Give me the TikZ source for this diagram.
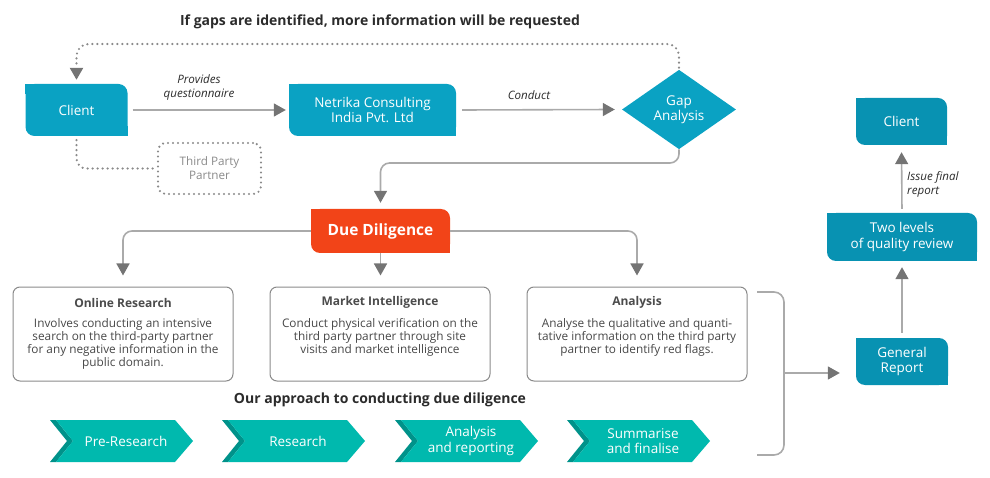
\documentclass[tikz,border=0pt]{standalone}
\usepackage{fontspec}
\setmainfont{Open Sans}
\usetikzlibrary{arrows.meta,shapes.geometric}
\definecolor{tealL}{HTML}{0AA2C3}
\definecolor{tealR}{HTML}{0892B2}
\definecolor{orng}{HTML}{F24418}
\definecolor{chev}{HTML}{00B9AE}
\definecolor{chevD}{HTML}{00928A}
\definecolor{lgray}{HTML}{AAAAAA}
\definecolor{hgray}{HTML}{747474}
\definecolor{dgray}{HTML}{8A8A8A}
\definecolor{txt}{HTML}{2B2B2B}
\definecolor{btxt}{HTML}{474747}
\newcommand{\sqcorners}[2]{%
  \fill[#2] (#1.north west) rectangle ++(10pt,-10pt);
  \fill[#2] (#1.south east) rectangle ++(-10pt,10pt);}
\newcommand{\chevron}[3]{%
  \fill[chevD] (#1,420) -- (#1+6,420) -- (#1+23,441) -- (#1+6,462) -- (#1,462) -- (#1+17,441) -- cycle;
  \fill[chev] (#1+6,420) -- (#1+125,420) -- (#1+143,441) -- (#1+125,462) -- (#1+6,462) -- (#1+23,441) -- cycle;
  \node[chevtxt] (#2) at (#1+76,441) {#3};}
\begin{document}
\begin{tikzpicture}[x=1pt,y=-1pt,
  tab/.style={fill=#1, rounded corners=9pt, text=white, inner sep=0pt, align=center,
    font=\fontsize{13.5}{15.5}\selectfont},
  tip/.style={-{Triangle[width=13pt,length=12pt,color=hgray]}},
  arr/.style={draw=lgray, line width=1.6pt, tip},
  plainline/.style={draw=lgray, line width=1.6pt},
  dotl/.style={draw=dgray, line width=2.4pt, line cap=round, dash pattern=on 0pt off 5pt},
  lab/.style={font=\fontsize{11.6}{14}\selectfont\itshape, text=txt, align=center, inner sep=0pt},
  ttl/.style={font=\fontsize{14}{16}\selectfont\bfseries, text=txt, inner sep=0pt},
  infobox/.style={draw=dgray, line width=1pt, rounded corners=7pt, minimum width=220pt,
    minimum height=94pt, inner sep=0pt},
  infottl/.style={font=\fontsize{12}{13}\selectfont\bfseries, text=txt!85!white, inner sep=0pt},
  infobody/.style={font=\fontsize{11.8}{13}\selectfont, text=btxt, inner sep=0pt, align=center, anchor=north},
  chevtxt/.style={font=\fontsize{13.5}{15.5}\selectfont, text=white, align=center, inner sep=0pt}
]
\useasboundingbox (0,0) rectangle (990,478);

% title
\node[ttl] (title) at (380,22) {If gaps are identified, more information will be requested};

% top row
\node[tab=tealL, minimum width=102pt, minimum height=52pt] (client) at (76.5,110) {Client};
\sqcorners{client}{tealL}
\node[tab=tealL, minimum width=167pt, minimum height=52pt] (netrika) at (372.5,110) {Netrika Consulting\\India Pvt. Ltd};
\sqcorners{netrika}{tealL}
\node[diamond, fill=tealL, text=white, inner sep=0pt, minimum width=114pt, minimum height=69pt,
  align=center, font=\fontsize{13.5}{15.5}\selectfont] (gap) at (679,109.5) {Gap\\Analysis};

\node[lab] (provides) at (199,87) {Provides\\questionnaire};
\node[lab] (conduct) at (529,95) {Conduct};

\draw[arr] ([xshift=5pt]client.east) -- ([xshift=-3pt]netrika.west);
\draw[arr] ([xshift=6pt]netrika.east) -- ([xshift=-7pt]gap.west);

% dotted loop
\coordinate (lp) at (380,44);
\draw[dotl, tip, rounded corners=12pt, shorten <=2pt, shorten >=4pt] (gap.north) -- (gap.north |- lp) -| (client.north);

% third party
\node[dotl, rounded corners=8pt, minimum width=103pt, minimum height=51pt, inner sep=0pt,
  text=dgray, align=center, font=\fontsize{11.7}{14}\selectfont] (third) at (209.5,168.5) {Third Party\\Partner};
\draw[dotl, rounded corners=10pt, shorten <=4pt] (client.south) |- (third.west);

% due diligence
\node[tab=orng, minimum width=139pt, minimum height=44pt, font=\fontsize{15.5}{18}\selectfont\bfseries] (dd) at (380.5,231) {Due Diligence};
\sqcorners{dd}{orng}
\coordinate (t1) at (530,163);
\draw[arr, rounded corners=9pt, shorten >=6pt] (gap.south) -- (gap.south |- t1) -| (dd.north);

% info boxes
\node[infobox] (online) at (123,334) {};
\node[infobox] (market) at (380,334) {};
\node[infobox] (analysis) at (637,334) {};
\node[infottl] (onlineT) at ([yshift=-16pt]online.north) {Online Research};
\node[infottl] (marketT) at ([yshift=-16pt]market.north) {Market Intelligence};
\node[infottl] (analysisT) at ([yshift=-16pt]analysis.north) {Analysis};
\node[infobody] (onlineB) at ([yshift=-32pt]online.north) {Involves conducting an intensive\\search on the third-party partner\\for any negative information in the\\public domain.};
\node[infobody] (marketB) at ([yshift=-32pt]market.north) {Conduct physical verification on the\\third party partner through site\\visits and market intelligence};
\node[infobody] (analysisB) at ([yshift=-32pt]analysis.north) {Analyse the qualitative and quanti-\\tative information on the third party\\partner to identify red flags.};

\draw[arr, rounded corners=9pt, shorten >=11pt] (dd.west) -| (online.north);
\draw[arr, shorten >=11pt] (dd.south) -- (dd.south |- market.north);
\draw[arr, rounded corners=9pt, shorten >=11pt] (dd.east) -| (analysis.north);

% approach
\node[ttl] (approach) at (380,400) {Our approach to conducting due diligence};
\chevron{50}{c1}{Pre-Research}
\chevron{222}{c2}{Research}
\chevron{395}{c3}{Analysis\\and reporting}
\chevron{567}{c4}{Summarise\\and finalise}

% right column
\node[tab=tealR, minimum width=91pt, minimum height=47pt] (client2) at (901.5,121.5) {Client};
\sqcorners{client2}{tealR}
\node[tab=tealR, minimum width=150pt, minimum height=48pt] (two) at (902,237) {Two levels\\of quality review};
\sqcorners{two}{tealR}
\node[tab=tealR, minimum width=92pt, minimum height=47pt] (gr) at (902,361.5) {General\\Report};
\sqcorners{gr}{tealR}

\draw[plainline, rounded corners=10pt] (757,292) -- (784,292) -- (784,455) -- (757,455);
\coordinate (bm) at (784,373);
\draw[arr, shorten >=16pt] (bm) -- (bm -| gr.west);
\draw[arr, shorten <=5pt, shorten >=6pt] (gr.north) -- (two.south);
\draw[arr, shorten <=4pt, shorten >=7pt] (two.north) -- (client2.south);
\node[lab, align=left, anchor=west] (issue) at (907,184) {Issue final\\report};
\end{tikzpicture}
\end{document}
